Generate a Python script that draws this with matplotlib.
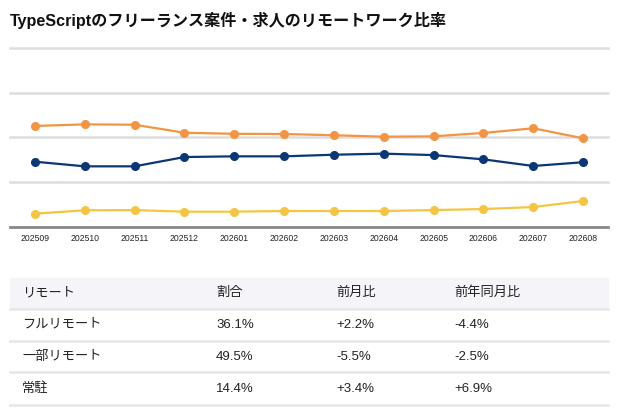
import matplotlib
matplotlib.use("Agg")
import matplotlib.pyplot as plt
from matplotlib.patches import Rectangle
from matplotlib.lines import Line2D

plt.rcParams['font.family'] = ['Liberation Sans', 'Noto Sans CJK JP', 'DejaVu Sans']

title = "TypeScriptのフリーランス案件・求人のリモートワーク比率"
months = ["202509", "202510", "202511", "202512", "202601", "202602",
          "202603", "202604", "202605", "202606", "202607", "202608"]

# percent per month
partial_remote = [56.4, 57.3, 57.1, 52.6, 52.0, 51.9, 51.2, 50.4, 50.6, 52.5, 55.1, 49.5]
full_remote = [36.4, 33.8, 33.8, 39.0, 39.4, 39.4, 40.3, 40.9, 40.1, 37.7, 34.0, 36.1]
onsite = [7.3, 9.2, 9.3, 8.4, 8.4, 8.8, 8.8, 8.8, 9.3, 9.9, 11.0, 14.4]

series_colors = ["#f39443", "#0b3776", "#f5c542"]

# table below the chart
table_header = ["リモート", "割合", "前月比", "前年同月比"]
table_rows = [
    ["フルリモート", "36.1%", "+2.2%", "-4.4%"],
    ["一部リモート", "49.5%", "-5.5%", "-2.5%"],
    ["常駐", "14.4%", "+3.4%", "+6.9%"],
]

W, H = 621, 417
fig = plt.figure(figsize=(W / 100, H / 100), dpi=100)

fig.text(10 / W, 1 - 20 / H, title, fontsize=11.6, fontweight='bold',
         va='center', ha='left', color='#111111')

ax = fig.add_axes([10 / W, 1 - 226.7 / H, 598 / W, (226.7 - 48.1) / H])
x = range(len(months))
for vals, c in zip([partial_remote, full_remote, onsite], series_colors):
    ax.plot(x, vals, color=c, lw=1.6, marker='o', ms=5.5, zorder=3, clip_on=False)

ax.set_xlim(-0.5, len(months) - 0.5)
ax.set_ylim(0, 100)
ax.set_yticks([25, 50, 75, 100])
ax.yaxis.grid(True, color='#dddddd', lw=1.8)
for gl in ax.yaxis.get_gridlines():
    gl.set_clip_on(False)
ax.set_axisbelow(True)
ax.tick_params(axis='y', left=False, labelleft=False)
ax.set_xticks(list(x))
ax.set_xticklabels(months, fontsize=6.2, color='#222222')
ax.tick_params(axis='x', length=0, pad=5)
for s in ['top', 'right', 'left']:
    ax.spines[s].set_visible(False)
ax.spines['bottom'].set_color('#888888')
ax.spines['bottom'].set_linewidth(2)

# table
col_x = [22, 216, 336, 454]
fig.patches.append(Rectangle((10 / W, 1 - 307.5 / H), 598 / W, 30 / H,
                             transform=fig.transFigure, color='#f4f4f9', zorder=0))
for ly in [308.5, 340.5, 372, 404.5]:
    fig.lines.append(Line2D([10 / W, 608 / W], [1 - ly / H, 1 - ly / H],
                            transform=fig.transFigure, color='#e6e6e6', lw=1.8))

row_y = [293, 324.5, 357, 389]
for ry, row in zip(row_y, [table_header] + table_rows):
    for cx, cell in zip(col_x, row):
        fig.text(cx / W, 1 - ry / H, cell, fontsize=9.5, va='center', ha='left',
                 color='#222222')

fig.savefig("out.png", dpi=100)
